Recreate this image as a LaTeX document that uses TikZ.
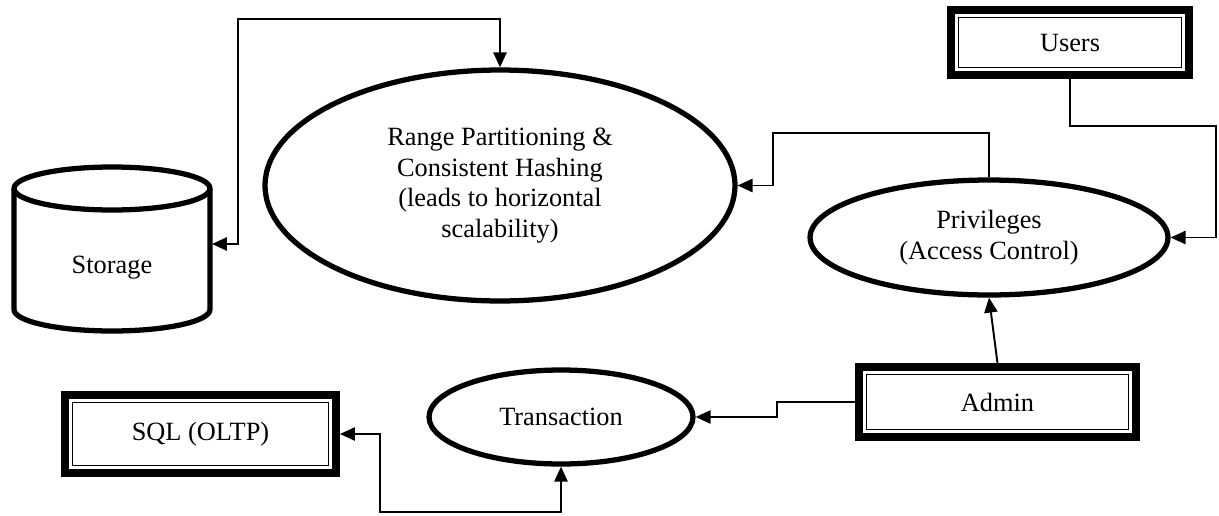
\documentclass[tikz,border=0pt]{standalone}
\usepackage{fontspec}
\setmainfont{Liberation Serif}
\usetikzlibrary{arrows.meta,shapes.geometric}
\tikzset{
  lbl/.style={font=\fontsize{15}{17.5}\selectfont, align=center},
  oval/.style={lbl, draw, ellipse, line width=3pt, inner sep=0pt},
  dblbox/.style={lbl, draw, rectangle, line width=4.5pt, inner sep=0pt,
    path picture={\draw[line width=0.9pt]
      ([shift={(4.3pt,4.3pt)}]path picture bounding box.south west) rectangle
      ([shift={(-4.3pt,-4.3pt)}]path picture bounding box.north east);}},
  arr/.style={line width=1.1pt, ->},
}
\begin{document}
\begin{tikzpicture}[x=0.02cm, y=0.02cm, >={Triangle[length=8.5pt,width=7.5pt]}]
\useasboundingbox (0,0) rectangle (1219,515);

\node[oval, minimum width=9.4cm, minimum height=4.62cm] (range) at (500,329.5)
  {Range Partitioning \&\\Consistent Hashing\\(leads to horizontal\\scalability)};
\node[oval, minimum width=7.16cm, minimum height=2.3cm] (priv) at (989,277.5)
  {Privileges\\(Access Control)};
\node[oval, minimum width=5.28cm, minimum height=1.88cm] (trans) at (561,98) {Transaction};
\node[dblbox, minimum width=4.76cm, minimum height=1.3cm] (users) at (1070,472.5) {Users};
\node[dblbox, minimum width=5.54cm, minimum height=1.4cm] (admin) at (997.5,113) {Admin};
\node[dblbox, minimum width=5.42cm, minimum height=1.56cm] (sql) at (200.5,81) {SQL (OLTP)};

\draw[line width=3pt] (112,326.5) ellipse (1.96cm and 0.43cm);
\draw[line width=3pt] (14,326.5) -- (14,205.5) arc (180:360:1.96cm and 0.43cm) -- (210,326.5);
\node[lbl] (stor) at (112,247) {Storage};
\coordinate (storR) at (212,271);

\coordinate (c1) at (238,496);
\coordinate (c2) at (773,382);
\coordinate (c3) at (1216,389);
\coordinate (c4) at (777,105);
\coordinate (c5) at (380,3);

\draw[arr,<->] (storR) -| (c1) -| (range.north);
\draw[arr] (priv.north) |- (c2) |- (range.east);
\draw[arr] (users.south) |- (c3) |- (priv.east);
\draw[arr] (admin.north) -- (priv.south);
\draw[arr] (admin.west) -| (c4) |- (trans.east);
\draw[arr,<->] (sql.east) -| (c5) -| (trans.south);
\end{tikzpicture}
\end{document}
